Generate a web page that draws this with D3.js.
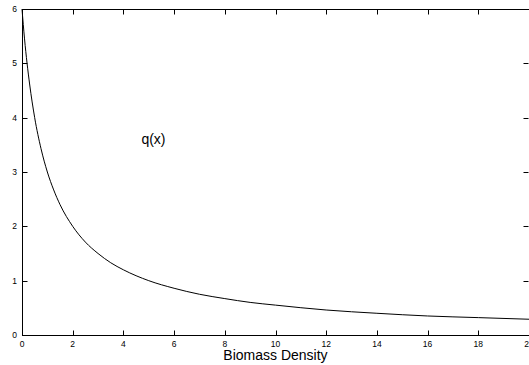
<!DOCTYPE html>
<html><head><meta charset="utf-8">
<script src="https://cdn.jsdelivr.net/npm/d3@7"></script>
<style>html,body{margin:0;padding:0;background:#fff;overflow:hidden}svg{display:block}</style>
</head><body>
<svg id="c" width="529" height="365"></svg>
<script>
const xValues = [0, 0.1, 0.2, 0.3, 0.5, 0.75, 1, 1.25, 1.5, 2, 2.5, 3, 3.5, 4, 5, 6, 7, 8, 9, 10, 12, 14, 16, 18, 20];
const qValues = [6.0, 5.45, 5.0, 4.62, 4.0, 3.43, 3.0, 2.67, 2.4, 2.0, 1.71, 1.5, 1.33, 1.2, 1.0, 0.86, 0.75, 0.67, 0.6, 0.55, 0.46, 0.4, 0.35, 0.32, 0.29];
const xTicks = [0, 2, 4, 6, 8, 10, 12, 14, 16, 18, 20];
const yTicks = [0, 1, 2, 3, 4, 5, 6];
const xLabel = "Biomass Density";
const curveLabel = "q(x)";
const curveLabelPos = [4.71, 3.52];

const svg = d3.select("#c");
const L = 22, R = 529, T = 9, B = 335;
const x = d3.scaleLinear().domain([0, 20]).range([L, R]);
const y = d3.scaleLinear().domain([0, 6]).range([B, T]);
const font = "'Liberation Sans', Arial, Helvetica, sans-serif";
const tl = 5;

const g = svg.append("g");
// frame
g.append("rect").attr("x", L + 0.5).attr("y", T + 0.5).attr("width", R - L).attr("height", B - T)
  .attr("fill", "none").attr("stroke", "#000").attr("stroke-width", 1);

// ticks
xTicks.forEach(t => {
  const px = Math.round(x(t)) + 0.5;
  g.append("line").attr("x1", px).attr("x2", px).attr("y1", B + 0.5).attr("y2", B + 0.5 - tl).attr("stroke", "#000");
  g.append("line").attr("x1", px).attr("x2", px).attr("y1", T + 0.5).attr("y2", T + 0.5 + tl).attr("stroke", "#000");
  g.append("text").attr("x", x(t)).attr("y", B + 12).attr("text-anchor", "middle")
    .attr("font-family", font).attr("font-size", 8.5).text(t);
});
yTicks.forEach(t => {
  const py = Math.round(y(t)) + 0.5;
  g.append("line").attr("x1", L + 0.5).attr("x2", L + 0.5 + tl).attr("y1", py).attr("y2", py).attr("stroke", "#000");
  g.append("line").attr("x1", R - 0.5).attr("x2", R - 0.5 - tl).attr("y1", py).attr("y2", py).attr("stroke", "#000");
  g.append("text").attr("x", L - 5).attr("y", y(t) + 3).attr("text-anchor", "end")
    .attr("font-family", font).attr("font-size", 8.5).text(t);
});

// curve
const data = xValues.map((v, i) => [v, qValues[i]]);
g.append("path").datum(data)
  .attr("d", d3.line().x(d => x(d[0])).y(d => y(d[1])).curve(d3.curveMonotoneX))
  .attr("fill", "none").attr("stroke", "#000").attr("stroke-width", 1);

g.append("text").attr("x", x(curveLabelPos[0])).attr("y", y(curveLabelPos[1]))
  .attr("font-family", font).attr("font-size", 14).text(curveLabel);

g.append("text").attr("x", (L + R) / 2).attr("y", 360).attr("text-anchor", "middle")
  .attr("font-family", font).attr("font-size", 14).text(xLabel);
</script>
</body></html>
